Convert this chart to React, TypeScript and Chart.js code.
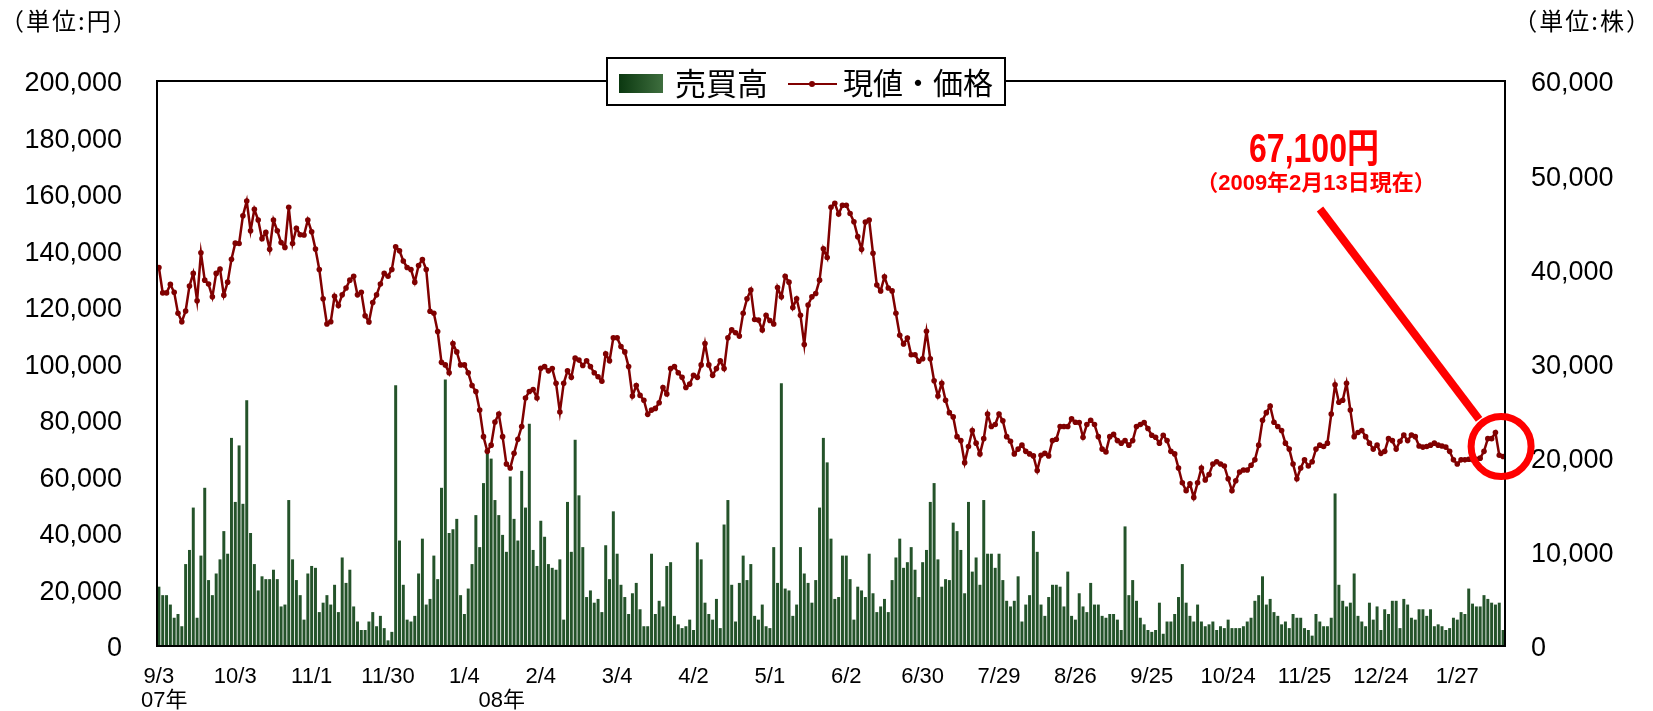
import React, { useEffect, useRef } from 'react';
import { Chart, registerables } from 'chart.js';

Chart.register(...registerables);

// ---- data ----
const tickLabels = ['9/3', '10/3', '11/1', '11/30', '1/4', '2/4', '3/4', '4/2', '5/1', '6/2', '6/30', '7/29', '8/26', '9/25', '10/24', '11/25', '12/24', '1/27'];
const tickEvery = 20;
const yearLabels = ['07年', '08年'];
const yearTickIndex = [0, 80];
const seriesNames = ['売買高', '現値・価格'];
const unitLeft = '（単位:円）';
const unitRight = '（単位:株）';
const lastPriceText = '67,100円';
const asOfText = '（2009年2月13日現在）';

// 現値・価格 (円), one value per trading day from 2007/9/3 to 2009/2/13
const prices = [
  134000, 125000, 125000, 128000, 125200, 117800, 114800, 118600, 127400, 131900,
  122200, 139200, 129500, 128100, 123600, 131900, 133400, 124200, 128800, 136900,
  142600, 142500, 152300, 157500, 147000, 154600, 150800, 144200, 146400, 140400,
  150800, 147000, 142800, 141100, 155300, 142500, 147900, 145600, 145500, 150800,
  146600, 140500, 133300, 122900, 114000, 114800, 123800, 120500, 124300, 126700,
  129500, 130900, 124300, 125200, 116900, 114700, 121600, 124300, 128100, 131900,
  130900, 133300, 141300, 139900, 136300, 134000, 133300, 128800, 134700, 136800,
  133300, 118500, 117800, 111300, 100400, 99500, 96700, 107100, 104100, 99500,
  99500, 96700, 92200, 90100, 83500, 74100, 68900, 71100, 79300, 82100,
  74100, 64400, 63000, 68200, 73200, 77700, 87800, 90100, 90800, 87800,
  98300, 98900, 97400, 98200, 93000, 82800, 93000, 97400, 95100, 101900,
  101200, 99300, 101000, 98900, 96700, 95300, 93700, 103400, 101000, 109100,
  109100, 106000, 104100, 98900, 88500, 92200, 88700, 87000, 82000, 83500,
  84100, 86100, 91500, 89200, 98200, 98900, 96700, 95100, 91500, 92700,
  95800, 95100, 99500, 107100, 99500, 95800, 98200, 101000, 98200, 109100,
  111900, 110900, 109700, 117800, 122900, 126000, 115600, 115400, 111900, 117100,
  115200, 114000, 126900, 123600, 130900, 128800, 119800, 122900, 117100, 106700,
  120700, 123600, 124800, 129500, 140600, 137500, 155300, 156700, 152900, 156000,
  156000, 153100, 150200, 144900, 140400, 150100, 150800, 139000, 127800, 125700,
  130700, 126700, 125700, 117800, 110000, 106900, 109000, 103100, 103100, 100800,
  101700, 111400, 101700, 93900, 88500, 93000, 87000, 82600, 81100, 74100,
  72700, 64900, 70600, 76300, 71800, 68000, 73400, 82100, 77700, 78400,
  82100, 79700, 74100, 72500, 68000, 69700, 71100, 68900, 68000, 67300,
  62100, 67500, 68200, 67300, 72700, 73200, 77700, 77700, 77700, 80400,
  79200, 79100, 73900, 78400, 79900, 78400, 74100, 69700, 68700, 74100,
  74900, 72700, 71800, 72700, 71100, 72700, 77700, 78400, 79100, 77000,
  74600, 73900, 71800, 74600, 72700, 68900, 68000, 63000, 57800, 55000,
  57400, 52600, 57800, 63000, 58800, 60700, 64400, 65200, 64400, 63700,
  59200, 55000, 58500, 61600, 62300, 62300, 64000, 65900, 71100, 79900,
  82600, 84900, 79200, 77700, 76300, 71800, 69700, 64400, 59200, 63000,
  65900, 63700, 65200, 69700, 71100, 70600, 71800, 82100, 92500, 86300,
  87000, 93000, 83500, 74100, 75600, 76300, 74100, 71800, 69700, 71100,
  68200, 68900, 73400, 72700, 69700, 72500, 74700, 72700, 74700, 74100,
  70800, 70400, 70600, 71100, 71800, 71100, 70800, 70400, 68900, 65900,
  64400, 65900, 65900, 66100, 65900, 66100, 66500, 68900, 73400, 73400,
  75600, 67500, 67100,
];

// 売買高 (株)
const volumes = [
  6300, 5400, 5400, 4400, 3000, 3400, 2100, 8700, 10200, 14700,
  3000, 9600, 16800, 7000, 5400, 7700, 9200, 12200, 9800, 22100,
  15300, 21300, 15100, 26100, 12000, 8700, 5900, 7400, 7100, 7100,
  8100, 7100, 4200, 4400, 15500, 9200, 7000, 5400, 2800, 7700,
  8500, 8300, 3600, 4600, 5400, 4400, 6500, 3600, 9400, 6700,
  8100, 4200, 2600, 1700, 1700, 2600, 3600, 2100, 3200, 1900,
  600, 1500, 27700, 11200, 6500, 2800, 2600, 3200, 7700, 11400,
  4400, 5000, 9600, 7100, 16800, 28300, 12000, 12400, 13500, 5400,
  3400, 6100, 8700, 13900, 10500, 17300, 20600, 19900, 15500, 13900,
  11800, 10000, 18000, 13500, 11200, 18600, 14700, 23600, 10200, 8500,
  13300, 11600, 8700, 8300, 8100, 9200, 2800, 15300, 10000, 21900,
  16000, 10500, 5200, 5900, 4600, 5000, 3600, 10700, 7100, 14300,
  9800, 6500, 5200, 3400, 5600, 6700, 3900, 2100, 2100, 9800,
  3400, 4800, 4200, 8500, 8900, 3200, 2300, 1900, 2100, 2800,
  1700, 11000, 9200, 4600, 3400, 2800, 5000, 1900, 12900, 15500,
  6500, 2600, 6700, 9600, 7000, 8700, 3200, 2800, 4400, 2100,
  1900, 10500, 6700, 27900, 6100, 5900, 3200, 4400, 10500, 7700,
  6700, 4600, 7000, 14700, 22100, 19500, 11400, 5000, 5200, 9600,
  9600, 7100, 2800, 6300, 5900, 5200, 9800, 5600, 3600, 4200,
  5000, 3600, 7000, 9400, 11400, 8300, 8900, 10500, 8100, 5200,
  8900, 10200, 15300, 17300, 9200, 6300, 7100, 7000, 13100, 12200,
  10200, 5600, 15300, 7900, 9400, 6500, 15500, 9800, 9800, 8300,
  9800, 7000, 4800, 4200, 4800, 7400, 2600, 4400, 5400, 12200,
  10000, 4400, 3200, 5200, 6500, 6500, 6300, 4200, 7900, 3200,
  2800, 5600, 4200, 3600, 6700, 4400, 4400, 3200, 3000, 3400,
  3400, 2800, 1700, 12700, 5400, 7000, 4800, 3000, 2300, 1700,
  1500, 1700, 4600, 1300, 2600, 2600, 3400, 5200, 8700, 4600,
  3200, 2600, 4400, 2600, 2100, 2300, 2600, 1700, 2100, 1900,
  2800, 1900, 1900, 1900, 2100, 2600, 3000, 4800, 5400, 7400,
  4400, 5000, 3600, 3200, 2300, 2600, 1900, 3400, 3000, 3000,
  1900, 1700, 1100, 3400, 2600, 2100, 2100, 3000, 16200, 6500,
  4800, 4200, 4600, 7700, 3200, 2600, 2100, 4600, 2800, 4200,
  1700, 3900, 3400, 4800, 4800, 1900, 5000, 4400, 3000, 2800,
  3900, 3900, 3200, 3900, 2100, 2300, 2100, 1700, 1900, 3000,
  2800, 3600, 3400, 6100, 4500, 4200, 4200, 5400, 5000, 4600,
  4400, 4600, 1700,
];

// trading-day index categories
const categories = prices.map((_, i) => String(i));

const LATIN = "'Liberation Sans', Arial, sans-serif";
const CJK = "'Liberation Sans', 'Noto Sans CJK JP', sans-serif";

const overlayPlugin = {
  id: 'overlay',
  afterDraw(chart: any) {
    const ctx: any = chart.ctx;
    const a = chart.chartArea;
    const xs = chart.scales.x;
    const yP = chart.scales.y;
    ctx.save();

    // plot frame
    ctx.strokeStyle = '#000';
    ctx.lineWidth = 2;
    ctx.strokeRect(a.left, a.top, a.right - a.left, a.bottom - a.top);

    // year labels under the date ticks
    ctx.fillStyle = '#000';
    ctx.font = `22px ${CJK}`;
    ctx.textAlign = 'left';
    ctx.textBaseline = 'middle';
    const yearOffsets = [-18, 14];
    yearLabels.forEach((t, k) => {
      const px = xs.getPixelForValue(yearTickIndex[k]) + yearOffsets[k];
      ctx.fillText(t, px, 701);
    });

    // unit labels
    ctx.font = `24px 'Noto Sans CJK JP', sans-serif`;
    try { ctx.letterSpacing = '2px'; } catch (e) { /* ignore */ }
    ctx.textAlign = 'left';
    ctx.fillText(unitLeft, 0, 21);
    ctx.textAlign = 'right';
    ctx.fillText(unitRight, 1652, 21);
    try { ctx.letterSpacing = '0px'; } catch (e) { /* ignore */ }

    // legend box
    const bx = 607, by = 58, bw = 398, bh = 47;
    ctx.fillStyle = '#fff';
    ctx.fillRect(bx, by, bw, bh);
    ctx.strokeStyle = '#000';
    ctx.lineWidth = 2;
    ctx.strokeRect(bx, by, bw, bh);
    const g = ctx.createLinearGradient(619, 0, 663, 0);
    g.addColorStop(0, '#0b3810');
    g.addColorStop(1, '#3e6e3e');
    ctx.fillStyle = g;
    ctx.fillRect(619, 74, 44, 19);
    ctx.fillStyle = '#000';
    ctx.font = `31px 'Noto Sans CJK JP', sans-serif`;
    ctx.textAlign = 'left';
    ctx.textBaseline = 'middle';
    ctx.fillText(seriesNames[0], 675, 83);
    ctx.strokeStyle = '#800000';
    ctx.lineWidth = 2;
    ctx.beginPath();
    ctx.moveTo(788, 84);
    ctx.lineTo(837, 84);
    ctx.stroke();
    ctx.fillStyle = '#800000';
    ctx.beginPath();
    ctx.arc(812, 84, 3, 0, Math.PI * 2);
    ctx.fill();
    ctx.fillStyle = '#000';
    ctx.font = `30px 'Noto Sans CJK JP', sans-serif`;
    ctx.fillText(seriesNames[1], 843, 83);

    // annotation
    ctx.fillStyle = '#ff0000';
    ctx.textAlign = 'center';
    ctx.save();
    ctx.translate(1314, 151);
    ctx.scale(0.8, 1);
    ctx.font = `bold 40px ${CJK}`;
    ctx.fillText(lastPriceText, 0, 0);
    ctx.restore();
    ctx.font = `bold 22px ${CJK}`;
    ctx.fillText(asOfText, 1316, 184);

    const lastIdx = prices.length - 1;
    const cx = xs.getPixelForValue(lastIdx) - 2;
    const cy = yP.getPixelForValue(prices[lastIdx]) - 10;
    ctx.strokeStyle = '#ff0000';
    ctx.lineWidth = 8;
    ctx.beginPath();
    ctx.moveTo(1320, 209);
    ctx.lineTo(cx - 22, cy - 27);
    ctx.stroke();
    ctx.lineWidth = 7;
    ctx.beginPath();
    ctx.arc(cx, cy, 30, 0, Math.PI * 2);
    ctx.stroke();

    ctx.restore();
  },
};

export default function App() {
  const ref = useRef<HTMLCanvasElement | null>(null);

  useEffect(() => {
    document.body.style.margin = '0';
    const canvas = ref.current;
    if (!canvas) return;
    const chart = new Chart(canvas, {
      type: 'bar',
      data: {
        labels: categories,
        datasets: [
          {
            type: 'line',
            label: seriesNames[1],
            data: prices,
            yAxisID: 'y',
            borderColor: '#800000',
            backgroundColor: '#800000',
            borderWidth: 2.5,
            pointRadius: 2.8,
            pointBorderWidth: 0,
            pointBackgroundColor: '#800000',
            tension: 0,
            order: 0,
          } as any,
          {
            type: 'bar',
            label: seriesNames[0],
            data: volumes,
            yAxisID: 'y1',
            backgroundColor: '#24532a',
            borderWidth: 0,
            barPercentage: 0.78,
            categoryPercentage: 1,
            order: 1,
          } as any,
        ],
      },
      options: {
        responsive: false,
        animation: false,
        devicePixelRatio: 1,
        layout: { padding: { top: 81, left: 0, right: 0, bottom: 0 } },
        plugins: {
          legend: { display: false },
          tooltip: { enabled: false },
          title: { display: false },
        },
        scales: {
          x: {
            type: 'category',
            offset: true,
            grid: { display: false, drawTicks: false },
            border: { display: false },
            afterBuildTicks: (s: any) => {
              s.ticks = s.ticks.filter((t: any) => t.value % tickEvery === 0);
            },
            afterFit: (s: any) => {
              s.height = 65;
            },
            ticks: {
              autoSkip: false,
              maxRotation: 0,
              minRotation: 0,
              padding: 18,
              color: '#000',
              font: { family: LATIN, size: 22 },
              callback: (v: any) => tickLabels[Number(v) / tickEvery] ?? '',
            },
          },
          y: {
            type: 'linear',
            position: 'left',
            min: 0,
            max: 200000,
            grid: { display: false, drawTicks: false },
            border: { display: false },
            afterFit: (s: any) => {
              s.width = 157;
            },
            ticks: {
              stepSize: 20000,
              padding: 35,
              labelOffset: 3,
              color: '#000',
              font: { family: LATIN, size: 27 },
              callback: (v: any) => Number(v).toLocaleString('en-US'),
            },
          },
          y1: {
            type: 'linear',
            position: 'right',
            min: 0,
            max: 60000,
            grid: { display: false, drawTicks: false },
            border: { display: false },
            afterFit: (s: any) => {
              s.width = 148;
            },
            ticks: {
              stepSize: 10000,
              padding: 26,
              labelOffset: 3,
              color: '#000',
              font: { family: LATIN, size: 27 },
              callback: (v: any) => Number(v).toLocaleString('en-US'),
            },
          },
        },
      },
      plugins: [overlayPlugin],
    });
    return () => chart.destroy();
  }, []);

  return (
    <div style={{ position: 'absolute', left: 0, top: 0, width: 1653, height: 711, background: '#fff' }}>
      <canvas ref={ref} width={1653} height={711} style={{ width: 1653, height: 711, display: 'block' }} />
    </div>
  );
}
